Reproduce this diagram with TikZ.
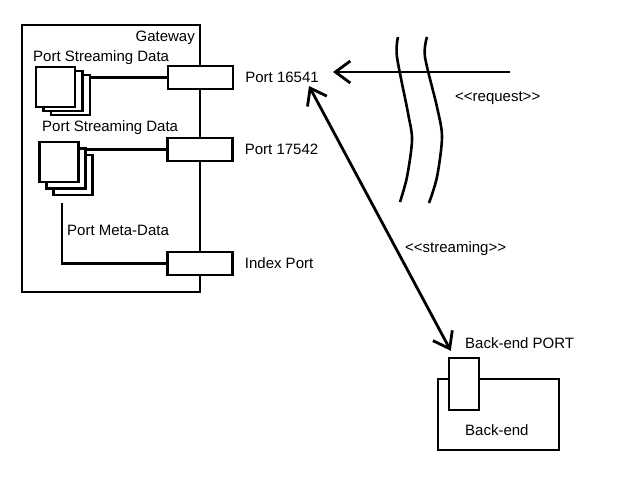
\documentclass[tikz,border=0pt]{standalone}
\usepackage{fontspec}
\setmainfont{Liberation Sans}
\usetikzlibrary{positioning,arrows.meta}
\tikzset{%
  txt/.style={font=\fontsize{15}{18}\selectfont,inner sep=0pt},
  box/.style={rectangle,draw,line width=2.4pt,inner sep=0pt},
  port/.style={box,fill=white,minimum width=65pt,minimum height=23pt},
  sheet/.style={box,fill=white,minimum width=39pt,minimum height=40pt},
  wire/.style={line width=2.8pt},
  cut/.style={line width=2.6pt},
  barb/.tip={Straight Barb[length=15pt,width=22pt]},
  msg/.style={line width=2.8pt,-barb},
  stream/.style={line width=2.8pt,barb-barb}
}

\begin{document}
\begin{tikzpicture}[x=1pt,y=-1pt]
    \useasboundingbox (0,0) rectangle (640,480);

    % gateway
    \node [box,minimum width=178pt,minimum height=267pt] (gw) at (111,158.5) {};
    \node [txt,anchor=base east] (gwname) at (195,41) {Gateway};

    \node [sheet] (sdA3) at (70.5,95) {};
    \node [sheet] (sdA2) at (63,91) {};
    \node [sheet] (sdA1) at (55.5,87) {};
    \node [txt,anchor=base west] (psdA) at (33,61) {Port Streaming Data};

    \node [sheet] (sdB3) at (73,175) {};
    \node [sheet] (sdB2) at (66,168.5) {};
    \node [sheet] (sdB1) at (59,162) {};
    \node [txt,anchor=base west] (psdB) at (42,131) {Port Streaming Data};

    \node [txt,anchor=base west] (pmeta) at (67,235) {Port Meta-Data};
    \coordinate (metaend) at (62,203);

    \node [port] (p16541) at (200.5,77.5) {};
    \node [port] (p17542) at (200,149.5) {};
    \node [port] (pidx) at (200,263.5) {};
    \node [txt,right=11pt of p16541] (n16541) {Port 16541};
    \node [txt,right=11pt of p17542] (n17542) {Port 17542};
    \node [txt,right=11pt of pidx] (nidx) {Index Port};

    \draw [wire] (p16541.west) -- (p16541.west -| sdA3.east);
    \draw [wire] (p17542.west) -- (p17542.west -| sdB2.east);
    \draw [wire] (pidx.west) -| (metaend);

    % request
    \coordinate (client) at (510,72);
    \draw [msg] (client) -- ([xshift=14pt]n16541.east |- client);
    \node [txt,anchor=base west] (req) at (455,101) {<{}<request>{}>};

    \draw [cut] plot [smooth] coordinates {(398,37) (397,57) (408,113) (412,140) (407,177) (400,202)};
    \draw [cut] plot [smooth] coordinates {(427,37) (425,57) (437,107) (442,137) (437,177) (429,203)};

    % back-end
    \node [box,minimum width=121pt,minimum height=71pt] (be) at (498.5,414.5) {};
    \node [box,fill=white,minimum width=30pt,minimum height=52pt] (bport) at (464,384) {};
    \node [txt,anchor=base west] (bportname) at (465,348) {Back-end PORT};
    \node [txt,anchor=base west] (bename) at (465,435) {Back-end};

    \draw [stream] ([shift={(-10,3)}]n16541.south east) -- ([shift={(3,-6)}]bport.north west);
    \node [txt,anchor=base west] (strm) at (405,252) {<{}<streaming>{}>};
\end{tikzpicture}
\end{document}
